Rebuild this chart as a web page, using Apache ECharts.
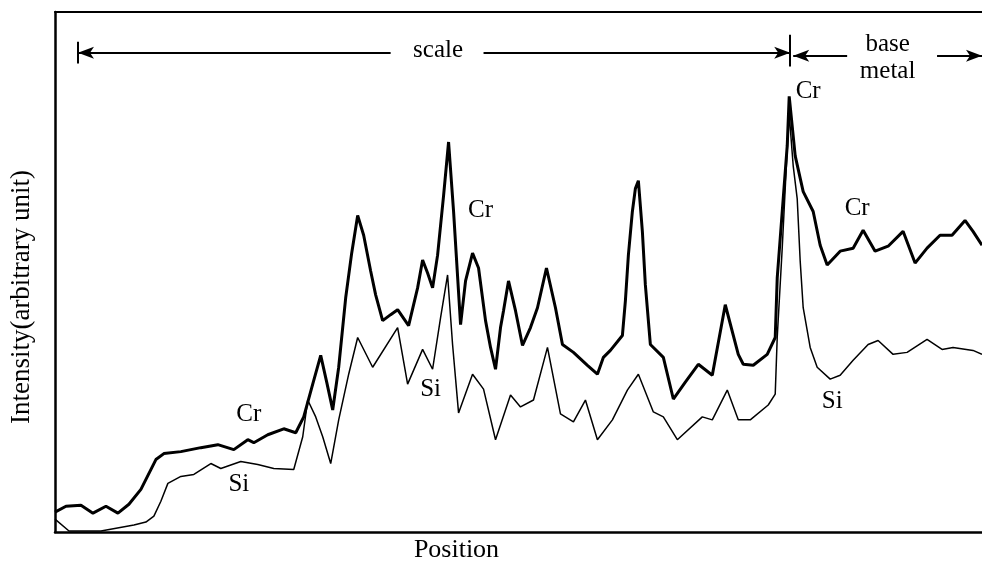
<!DOCTYPE html>
<html>
<head>
<meta charset="utf-8">
<script src="https://cdn.jsdelivr.net/npm/echarts@6/dist/echarts.min.js"></script>
<style>html,body{margin:0;padding:0;background:#fff;}#c{width:982px;height:568px;}</style>
</head>
<body>
<div id="c"></div>
<script>
// Cr profile (thick line)
const crX = [0,11,26,38,51,63,74,86,101,109,126,146,163,179,193,199,213,229,241,249,258,266,272,278,284,291,297,303,309,316,321,328,336,343,354,363,368,373,378,383,389,394,399,406,411,418,424,431,436,441,446,449,454,461,468,476,483,492,501,508,519,533,543,549,556,568,571,574,578,581,584,588,591,596,609,619,631,644,658,671,684,689,699,713,721,723,726,729,733,735,741,749,759,766,773,786,799,809,821,834,849,861,873,886,898,911,919,928];
const crY = [20,26,27,19,26,19,28,43,73,79,81,85,88,83,93,90,98,104,100,116,149,178,151,123,166,236,281,319,299,263,239,213,219,224,208,246,274,261,246,279,339,393,323,209,253,281,266,213,186,164,206,223,253,223,188,206,226,266,226,189,181,168,159,176,183,198,233,279,323,346,354,303,249,189,176,134,151,169,158,229,179,169,168,179,196,256,296,336,389,439,379,343,323,289,269,283,286,304,283,288,303,271,286,299,299,314,303,289];
// Si profile (thin line)
const siX = [0,14,46,79,91,99,106,113,126,139,156,166,186,203,219,239,248,253,261,268,276,284,294,303,318,343,353,368,378,386,393,398,404,418,429,441,456,466,479,493,506,519,531,543,558,573,584,599,609,623,648,658,673,684,696,714,721,723,728,732,735,739,743,746,749,756,763,776,786,799,814,824,839,853,873,888,899,919,928];
const siY = [13,1,1,7,10,16,31,49,56,58,69,64,71,68,64,63,96,133,116,96,69,113,159,196,166,206,149,184,164,216,259,189,120,159,144,93,138,126,133,186,119,111,133,93,113,143,159,121,116,93,116,113,143,113,113,128,139,196,286,366,421,369,336,273,226,186,166,154,158,173,189,193,179,181,194,184,186,183,179];
// text labels on the curves
const labelNames = ['Cr','Si','Cr','Si','Cr','Cr','Si'];
const labelX = [194,184,426,376,754,803,778];
const labelY = [118,48,324,144,444,326,132];
// region annotations
const scaleSpan = [23, 736];
const baseSpan = [739, 928];

const zip = (a, b) => a.map((v, i) => [v, b[i]]);
const serif = '"Liberation Serif","Times New Roman",serif';

const chart = echarts.init(document.getElementById('c'), null, {renderer: 'canvas'});
const axisLine = {show: true, lineStyle: {color: '#000', width: 2.5}};
chart.setOption({
  backgroundColor: '#fff',
  animation: false,
  grid: {left: 54, right: 0, top: 12, bottom: 32},
  xAxis: [
    {type: 'value', min: 0, max: 928, position: 'bottom',
     axisLine: axisLine, axisTick: {show: false}, axisLabel: {show: false}, splitLine: {show: false},
     name: 'Position', nameLocation: 'middle', nameGap: 5,
     nameTextStyle: {fontFamily: serif, fontSize: 26, color: '#000', padding: [0, 124, 0, 0]}},
    {type: 'value', min: 0, max: 928, position: 'top',
     axisLine: {show: true, lineStyle: {color: '#000', width: 2}}, axisTick: {show: false}, axisLabel: {show: false}, splitLine: {show: false}}
  ],
  yAxis: {type: 'value', min: 0, max: 524,
    axisLine: axisLine, axisTick: {show: false}, axisLabel: {show: false}, splitLine: {show: false},
    name: 'Intensity(arbitrary unit)', nameLocation: 'middle', nameGap: 20,
    nameTextStyle: {fontFamily: serif, fontSize: 27, color: '#000', padding: [0, 50, 0, 0]}},
  series: [
    {name: 'Cr', type: 'line', data: zip(crX, crY), showSymbol: false, symbol: 'none',
     lineStyle: {color: '#000', width: 3}, z: 3,
     markLine: {
       silent: true, symbol: ['none', 'none'], label: {show: false},
       lineStyle: {color: '#000', width: 2, type: 'solid'},
       data: [
         [{coord: [scaleSpan[0], 472], symbol: 'none'}, {coord: [scaleSpan[0], 494], symbol: 'none'}],
         [{coord: [scaleSpan[1], 469], symbol: 'none'}, {coord: [scaleSpan[1], 501], symbol: 'none'}],
         [{coord: [scaleSpan[0], 483], symbol: 'arrow', symbolSize: [9, 16]}, {coord: [336, 483], symbol: 'none'}],
         [{coord: [429, 483], symbol: 'none'}, {coord: [scaleSpan[1], 483], symbol: 'arrow', symbolSize: [9, 16]}],
         [{coord: [baseSpan[0], 480], symbol: 'arrow', symbolSize: [9, 16]}, {coord: [793, 480], symbol: 'none'}],
         [{coord: [883, 480], symbol: 'none'}, {coord: [baseSpan[1], 480], symbol: 'arrow', symbolSize: [9, 16]}]
       ]
     }},
    {name: 'Si', type: 'line', data: zip(siX, siY), showSymbol: false, symbol: 'none',
     lineStyle: {color: '#000', width: 1.5}, z: 2},
    {name: 'labels', type: 'scatter', symbolSize: 0, silent: true, z: 5,
     itemStyle: {opacity: 1, color: '#000'},
     data: labelNames.map((n, i) => ({name: n, value: [labelX[i], labelY[i]]})).concat([
       {name: 'scale', value: [(scaleSpan[0] + scaleSpan[1]) / 2 + 4, 485]},
       {name: 'base\nmetal', value: [(baseSpan[0] + baseSpan[1]) / 2, 478]}
     ]),
     label: {show: true, position: 'inside', formatter: '{b}', color: '#000', opacity: 1,
       fontFamily: serif, fontSize: 25, lineHeight: 27}}
  ]
});
</script>
</body>
</html>
